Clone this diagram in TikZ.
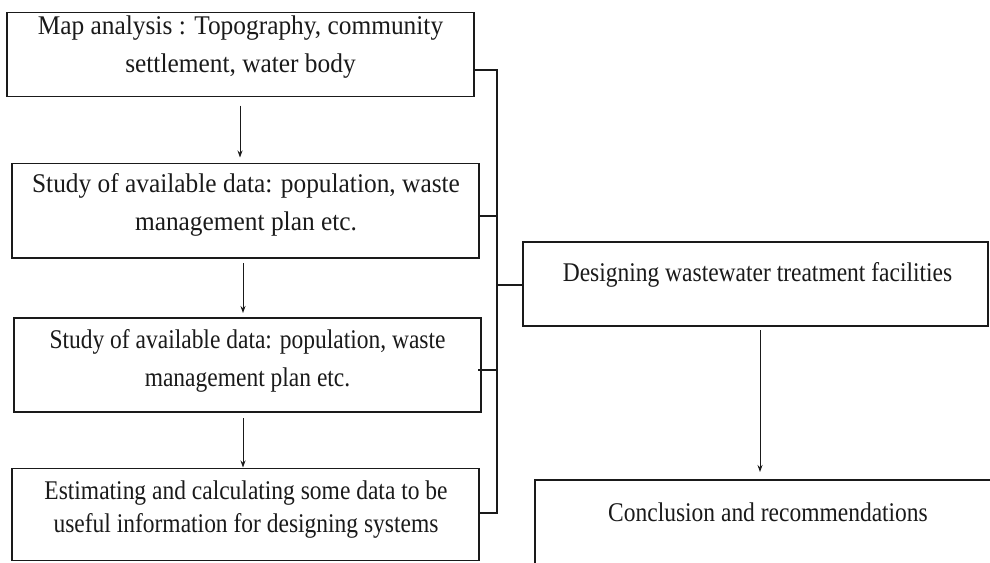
\documentclass[tikz,border=0pt]{standalone}
\usepackage{fontspec}
\setmainfont{Liberation Serif}[FakeStretch=0.87]
\newfontfamily\wideserif{Liberation Serif}[FakeStretch=0.94]
\usetikzlibrary{arrows.meta}
\definecolor{ink}{HTML}{1A1A1A}
\begin{document}
\begin{tikzpicture}[x=1pt,y=-1pt,
  box/.style={draw=ink, line width=1.5pt, rectangle, anchor=north west, inner sep=0pt, outer sep=0pt},
  txt/.style={anchor=north, inner sep=0pt, align=center, text=ink, font=\fontsize{27}{38}\selectfont},
  widetxt/.style={txt, font=\wideserif\fontsize{27}{38}\selectfont},
  link/.style={draw=ink, line width=1.4pt},
  arr/.style={draw=ink, line width=0.9pt, -{Stealth[length=7pt,width=5pt]}}]
\useasboundingbox (0,0) rectangle (990,562);
\clip (0,0) rectangle (990,562);
\fill[white] (0,0) rectangle (990,562);

% boxes
\node[box, minimum width=467pt, minimum height=84pt] (b1) at (7,12.5) {};
\node[box, minimum width=467pt, minimum height=94.5pt] (b2) at (12,163.5) {};
\node[box, minimum width=467pt, minimum height=94pt] (b3) at (14,318) {};
\node[box, minimum width=467pt, minimum height=92pt] (b4) at (12,468.5) {};
\node[box, minimum width=465pt, minimum height=84pt] (d) at (523,242) {};
\node[box, minimum width=500pt, minimum height=120pt] (c) at (535,480) {};

% texts
\node[widetxt] (t1) at (240.5,16) {Map analysis : Topography, community\\settlement, water body};
\node[widetxt] (t2) at (246,173) {Study of available data: population, waste\\management plan etc.};
\node[txt] (t3) at (247.5,329.5) {Study of available data: population, waste\\management plan etc.};
\node[txt, font=\fontsize{27}{33}\selectfont] (t4) at (246,481) {Estimating and calculating some data to be\\useful information for designing systems};
\node[txt] (t5) at (757.5,262.5) {Designing wastewater treatment facilities};
\node[txt] (t6) at (768,502.5) {Conclusion and recommendations};

% bracket connectors
\coordinate (bt) at (497,70);
\coordinate (bb) at (497,513);
\coordinate (j2) at (497,216);
\coordinate (j3) at (497,370);
\coordinate (jd) at (497,285);
\draw[link] (b1.east |- bt) -- (bt) -- (bb) -- (b4.east |- bb);
\draw[link] (b2.east |- j2) -- (j2);
\draw[link] ([xshift=-3pt]b3.east |- j3) -- (j3);
\draw[link] (jd) -- (d.west |- jd);

% arrows
\draw[arr] ([xshift=-0.5pt,yshift=-9pt]b1.south) -- ([xshift=-5.5pt,yshift=6pt]b2.north);
\draw[arr] ([xshift=-2.5pt,yshift=-5pt]b2.south) -- ([xshift=-4.5pt,yshift=5pt]b3.north);
\draw[arr] ([xshift=-4.5pt,yshift=-6pt]b3.south) -- ([xshift=-2.5pt,yshift=1pt]b4.north);
\draw[arr] ([xshift=4.5pt,yshift=-4pt]d.south) -- ([xshift=-25pt,yshift=8pt]c.north);
\end{tikzpicture}
\end{document}
